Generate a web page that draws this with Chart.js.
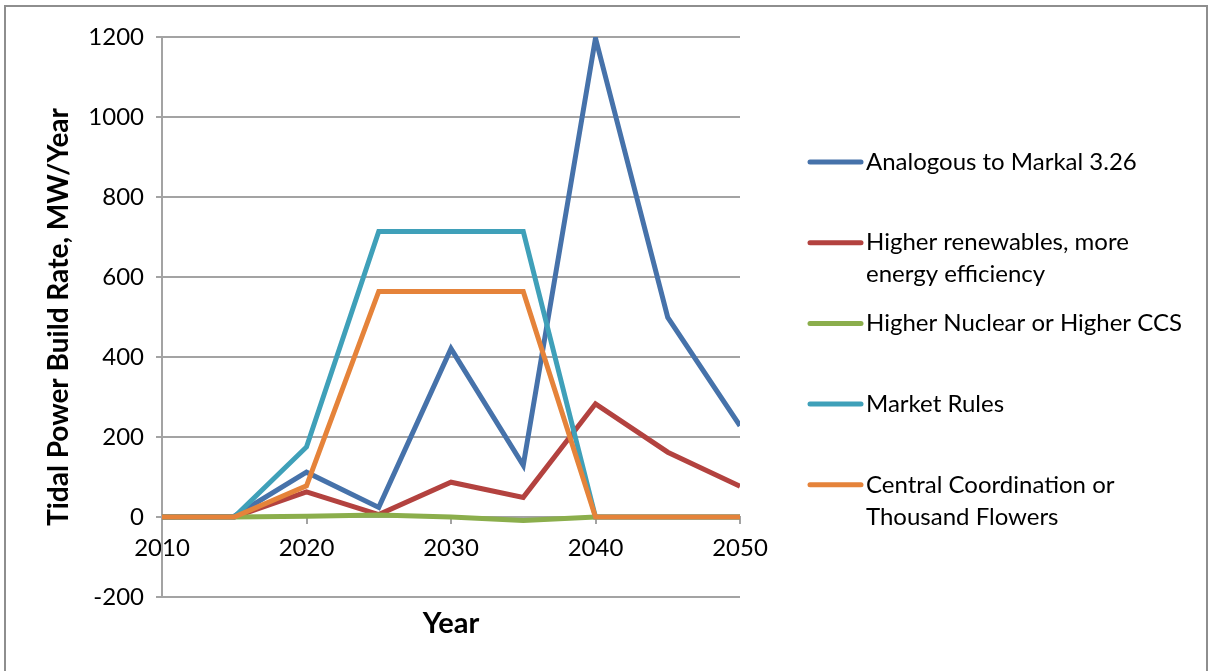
<!DOCTYPE html>
<html>
<head>
<meta charset="utf-8">
<script src="https://cdn.jsdelivr.net/npm/chart.js@4.4.0/dist/chart.umd.min.js"></script>
<style>
  html, body { margin: 0; padding: 0; background: #ffffff; }
  #wrap { position: relative; width: 1208px; height: 671px; overflow: hidden; }
  #frame { position: absolute; left: 4px; top: 5px; width: 1200px; height: 700px; border: 2px solid #8e8e8e; }
  canvas { position: absolute; left: 0; top: 0; }
</style>
</head>
<body>
<div id="wrap">
  <div id="frame"></div>
  <canvas id="chart" width="1208" height="671"></canvas>
</div>
<script>
// Model years
const years = [2010, 2015, 2020, 2025, 2030, 2035, 2040, 2045, 2050];

// Tidal power build rate by scenario, MW/Year
const analogousMarkal = [0, 2, 112, 24, 421, 129, 1197, 499, 228];
const higherRenewables = [0, 0, 63, 6, 87, 49, 283, 162, 77];
const higherNuclearCCS = [0, 0, 2, 5, 0, -9, 0, 0, 0];
const marketRules = [0, 0, 175, 714, 714, 714, 0, 0, 0];
const centralCoordination = [0, 0, 78, 564, 564, 564, 0, 0, 0];

// Series names (legend text, wrapped where it runs long)
const seriesNames = [
  ['Analogous to Markal 3.26'],
  ['Higher renewables, more', 'energy efficiency'],
  ['Higher Nuclear or Higher CCS'],
  ['Market Rules'],
  ['Central Coordination or', 'Thousand Flowers']
];
const seriesValues = [analogousMarkal, higherRenewables, higherNuclearCCS, marketRules, centralCoordination];
const seriesColors = ['#4672aa', '#b3423f', '#8bae4c', '#3fa0b9', '#e5833a'];

// Axis tick settings
const yMin = -200, yMax = 1200, yStep = 200;
const xMin = 2010, xMax = 2050, xStep = 10;

const FONT = 'Lato, "Open Sans", sans-serif';
const GRID = '#a3a3a3';

const datasets = seriesValues.map((vals, i) => ({
  label: seriesNames[i].join(' '),
  data: years.map((y, k) => ({ x: y, y: vals[k] })),
  borderColor: seriesColors[i],
  backgroundColor: seriesColors[i],
  borderWidth: 5,
  pointRadius: 0,
  pointHoverRadius: 0,
  tension: 0,
  borderJoinStyle: 'miter',
  borderCapStyle: 'butt',
  order: seriesValues.length - i
}));

// Legend drawn on the canvas, right of the plot, with wrapped entries
const sideLegend = {
  id: 'sideLegend',
  afterDraw(chart) {
    const ctx = chart.ctx;
    ctx.save();
    ctx.font = '24px ' + FONT;
    ctx.textBaseline = 'middle';
    ctx.textAlign = 'left';
    seriesNames.forEach((lines, i) => {
      const y0 = 162 + i * 80.7;
      ctx.strokeStyle = seriesColors[i];
      ctx.lineWidth = 5;
      ctx.lineCap = 'round';
      ctx.beginPath();
      ctx.moveTo(810, y0);
      ctx.lineTo(861, y0);
      ctx.stroke();
      ctx.fillStyle = '#000000';
      lines.forEach((t, k) => ctx.fillText(t, 866, y0 + k * 32));
    });
    ctx.restore();
  }
};

new Chart(document.getElementById('chart'), {
  type: 'line',
  data: { datasets },
  plugins: [sideLegend],
  options: {
    responsive: false,
    animation: false,
    events: [],
    layout: { padding: { left: 0, top: 37, right: 468, bottom: 74 } },
    plugins: {
      legend: { display: false },
      tooltip: { enabled: false }
    },
    scales: {
      x: {
        type: 'linear',
        position: { y: 0 },
        min: xMin,
        max: xMax,
        ticks: {
          stepSize: xStep,
          color: '#000000',
          font: { family: FONT, size: 24 },
          padding: 11,
          maxRotation: 0,
          callback: v => String(v)
        },
        grid: { drawOnChartArea: false, drawTicks: true, tickLength: 6, color: GRID, lineWidth: 2 },
        border: { display: true, color: GRID, width: 2 },
        title: {
          display: true,
          text: 'Year',
          color: '#000000',
          font: { family: FONT, size: 29, weight: 'bold' },
          padding: { top: 32, bottom: 0 }
        }
      },
      y: {
        type: 'linear',
        min: yMin,
        max: yMax,
        ticks: {
          stepSize: yStep,
          color: '#000000',
          font: { family: FONT, size: 24 },
          padding: 12,
          callback: v => String(v)
        },
        grid: { drawTicks: true, tickLength: 6, color: GRID, lineWidth: 2 },
        border: { display: true, color: GRID, width: 2 },
        title: {
          display: true,
          text: 'Tidal Power Build Rate, MW/Year',
          color: '#000000',
          font: { family: FONT, size: 28, weight: 'bold' },
          padding: { top: 42, bottom: 0 }
        },
        afterFit(scale) { scale.width = 162; }
      }
    }
  }
});
</script>
</body>
</html>
